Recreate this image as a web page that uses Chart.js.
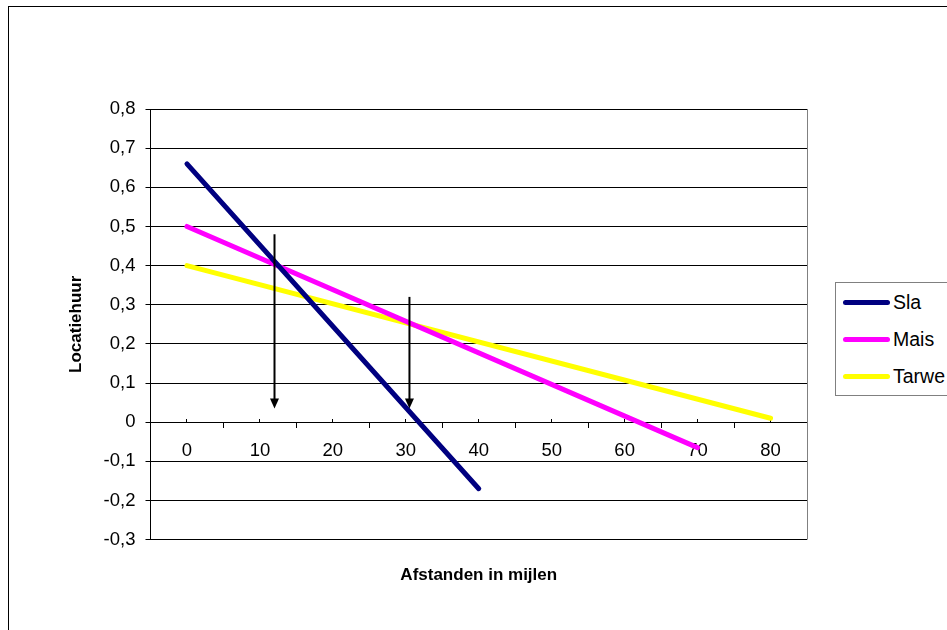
<!DOCTYPE html>
<html lang="nl">
<head>
<meta charset="UTF-8">
<title>Locatiehuur</title>
<style>
    body {
        margin: 0;
        width: 947px;
        height: 630px;
        overflow: hidden;
        position: relative;
        background: #fff;
        font-family: "Liberation Sans", Arial, sans-serif;
    }

    #rand {
        position: absolute;
        left: 8px;
        top: 6px;
        width: 1200px;
        height: 900px;
        border: 1px solid #000;
    }

    #grafiek {
        position: absolute;
        left: 0;
        top: 0;
    }

    #legenda {
        position: absolute;
        left: 835px;
        top: 282px;
        width: 200px;
        height: 112px;
        border: 1px solid #808080;
        background: #fff;
    }

    .item {
        position: absolute;
        left: 7px;
        height: 22px;
        display: flex;
        align-items: center;
        font-size: 19.5px;
        color: #000;
        white-space: nowrap;
    }

    .item .lijn {
        width: 47px;
        height: 5px;
        border-radius: 3px;
        margin-right: 3px;
    }
</style>
</head>
<body>
<div id="rand"></div>
<canvas id="grafiek" width="947" height="630"></canvas>
<div id="legenda"></div>

<script src="https://cdn.jsdelivr.net/npm/chart.js@4"></script>
<script>
    // afstanden (mijlen) en locatiehuur per gewas
    const reeksen = ['Sla', 'Mais', 'Tarwe'];
    const slaX = [0, 40];
    const slaY = [0.66, -0.17];
    const maisX = [0, 70];
    const maisY = [0.5, -0.065];
    const tarweX = [0, 80];
    const tarweY = [0.4, 0.01];

    // labels op de x-as
    const afstandLabels = [0, 10, 20, 30, 40, 50, 60, 70, 80];

    // de twee pijlen: x-waarde, begin en eind (y)
    const pijlX = [12, 30.5];
    const pijlVan = [0.48, 0.32];
    const pijlTot = [0.035, 0.035];

    const punten = (xs, ys) => xs.map((x, i) => ({ x: x, y: ys[i] }));

    Chart.defaults.font.family = '"Liberation Sans", Arial, sans-serif';
    Chart.defaults.font.size = 18.5;
    Chart.defaults.color = '#000';

    const pijlenPlugin = {
        id: 'pijlen',
        afterDatasetsDraw(chart) {
            const { ctx, chartArea, scales } = chart;
            ctx.save();
            // rechterrand van het plotvlak
            ctx.strokeStyle = '#808080';
            ctx.lineWidth = 1;
            ctx.beginPath();
            ctx.moveTo(Math.round(chartArea.right) + 0.5, chartArea.top);
            ctx.lineTo(Math.round(chartArea.right) + 0.5, chartArea.bottom);
            ctx.stroke();

            ctx.strokeStyle = '#000';
            ctx.fillStyle = '#000';
            ctx.lineWidth = 2;
            pijlX.forEach((v, i) => {
                const px = scales.x.getPixelForValue(v);
                const boven = scales.y.getPixelForValue(pijlVan[i]);
                const punt = scales.y.getPixelForValue(pijlTot[i]);
                ctx.beginPath();
                ctx.moveTo(px, boven);
                ctx.lineTo(px, punt - 8);
                ctx.stroke();
                ctx.beginPath();
                ctx.moveTo(px - 4.5, punt - 10);
                ctx.lineTo(px + 4.5, punt - 10);
                ctx.lineTo(px, punt);
                ctx.closePath();
                ctx.fill();
            });
            ctx.restore();
        }
    };

    const isMajor = (v) => Math.abs(v % 10) < 1e-9;

    const chart = new Chart(document.getElementById('grafiek'), {
        type: 'line',
        data: {
            datasets: [{
                label: reeksen[0],
                data: punten(slaX, slaY),
                borderColor: '#000080'
            }, {
                label: reeksen[1],
                data: punten(maisX, maisY),
                borderColor: '#FF00FF'
            }, {
                label: reeksen[2],
                data: punten(tarweX, tarweY),
                borderColor: '#FFFF00'
            }]
        },
        options: {
            responsive: false,
            animation: false,
            borderWidth: 5,
            borderCapStyle: 'round',
            pointRadius: 0,
            pointHoverRadius: 0,
            layout: {
                padding: { left: 0, top: 109, right: 140, bottom: 44 }
            },
            plugins: {
                legend: { display: false },
                tooltip: { enabled: false }
            },
            scales: {
                x: {
                    type: 'linear',
                    position: { y: 0 },
                    min: -5,
                    max: 85,
                    ticks: {
                        stepSize: 5,
                        autoSkip: false,
                        maxRotation: 0,
                        padding: 13,
                        callback: (v) => afstandLabels.includes(v) ? String(v) : ''
                    },
                    grid: {
                        drawOnChartArea: false,
                        tickLength: 5,
                        tickColor: (c) => isMajor(c.tick.value) ? 'rgba(0,0,0,0)' : '#000'
                    },
                    border: { color: '#000', width: 1 }
                },
                xMaj: {
                    type: 'linear',
                    position: { y: 0 },
                    min: -5,
                    max: 85,
                    ticks: { display: false, stepSize: 5 },
                    grid: {
                        drawOnChartArea: false,
                        tickLength: -3,
                        tickColor: (c) => isMajor(c.tick.value) ? '#000' : 'rgba(0,0,0,0)'
                    },
                    border: { display: false }
                },
                xTitel: {
                    type: 'linear',
                    position: 'bottom',
                    min: -5,
                    max: 85,
                    ticks: { display: false },
                    grid: { display: false, drawTicks: false },
                    border: { display: false },
                    title: {
                        display: true,
                        text: 'Afstanden in mijlen',
                        font: { size: 17, weight: 'bold' },
                        padding: { top: 26, bottom: 0 }
                    }
                },
                y: {
                    min: -0.3,
                    max: 0.8,
                    ticks: {
                        stepSize: 0.1,
                        padding: 10,
                        callback: (v) => {
                            const r = Math.round(v * 10) / 10;
                            return r === 0 ? '0' : r.toFixed(1).replace('.', ',');
                        }
                    },
                    grid: {
                        color: '#000',
                        lineWidth: 1,
                        tickLength: 5
                    },
                    border: { color: '#000', width: 1 },
                    title: {
                        display: true,
                        text: 'Locatiehuur',
                        font: { size: 17, weight: 'bold' },
                        padding: { top: 66, bottom: 0 }
                    },
                    afterFit: (scale) => { scale.width = 150.5; }
                }
            }
        },
        plugins: [pijlenPlugin]
    });

    // legenda op basis van de datasets
    const legenda = document.getElementById('legenda');
    chart.data.datasets.forEach((ds, i) => {
        const item = document.createElement('div');
        item.className = 'item';
        item.style.top = (8 + i * 37) + 'px';
        const lijn = document.createElement('div');
        lijn.className = 'lijn';
        lijn.style.background = ds.borderColor;
        const tekst = document.createElement('span');
        tekst.textContent = ds.label;
        item.appendChild(lijn);
        item.appendChild(tekst);
        legenda.appendChild(item);
    });
</script>
</body>
</html>
